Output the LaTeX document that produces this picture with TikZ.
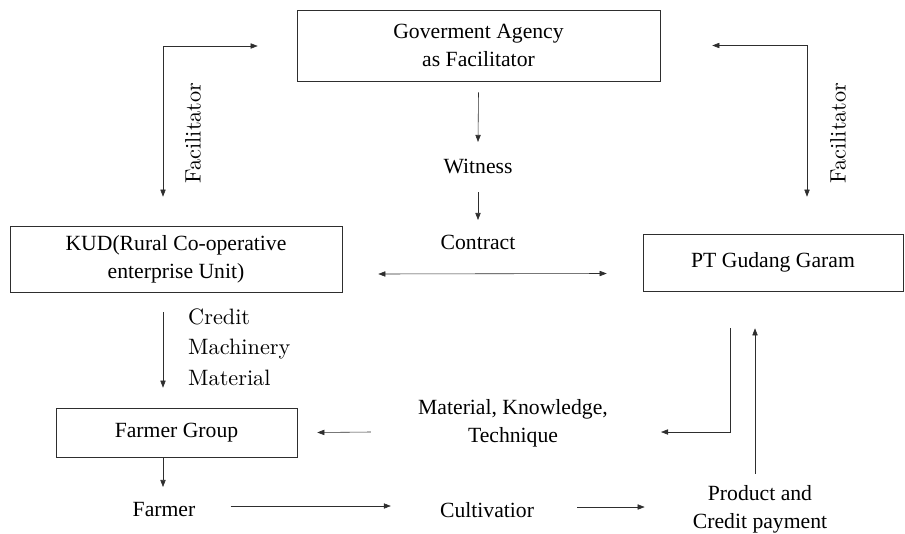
\documentclass[tikz,border=0pt]{standalone}
\usepackage{fontspec}
\setmainfont{Liberation Serif}
\newfontfamily\lmr{lmroman10-regular}[Extension=.otf]
\usetikzlibrary{arrows.meta,calc}
\definecolor{ink}{HTML}{2E2E2E}

\begin{document}
\begin{tikzpicture}[x=0.03cm,y=-0.03cm,>={Triangle[length=6pt,width=4.5pt]},
        box/.style={draw=ink,line width=0.5pt,align=center,inner sep=0pt,
                    font=\fontsize{18.5}{24}\selectfont},
        lbl/.style={inner sep=0pt,align=center,font=\fontsize{18.5}{24}\selectfont},
        cen/.style={inner sep=0pt,align=left,font=\lmr\fontsize{19}{26}\selectfont},
        link/.style={draw=ink,line width=0.5pt}]
      \useasboundingbox (0,0) rectangle (905,533);
      % boxes
      \node[box,minimum width=10.89cm,minimum height=2.13cm] (gov) at (478.5,45.5) {Goverment Agency\\as Facilitator};
      \node[box,minimum width=9.96cm,minimum height=1.98cm] (kud) at (176,259) {KUD(Rural Co-operative\\enterprise Unit)};
      \node[box,minimum width=7.8cm,minimum height=1.71cm] (ptg) at (773,262.5) {PT Gudang Garam};
      \node[box,minimum width=7.23cm,minimum height=1.47cm] (fg) at (176.5,432.5) {Farmer Group};
      % labels
      \node[lbl] (wit) at (478,166) {Witness};
      \node[lbl] (con) at (478,242) {Contract};
      \node[lbl] (mkt) at (513,423) {Material, Knowledge,\\Technique};
      \node[lbl] (fmr) at (164,510) {Farmer};
      \node[lbl] (cul) at (487,510) {Cultivatior};
      \node[lbl] (prd) at (760,509) {Product and\\Credit payment};
      \node[cen,anchor=west] (cmm) at (188,347) {Credit\\Machinery\\Material};
      \node[cen,rotate=90] (facl) at (193,133) {Facilitator};
      \node[cen,rotate=90] (facr) at (838,133) {Facilitator};
      % connectors
      \draw[link,<->] ($(kud.north)+(-13,-29)$) |- ($(gov.west)+(-39,0.5)$);
      \draw[link,<->] ($(ptg.north)+(34,-37)$) |- ($(gov.east)+(52,0)$);
      \draw[link,->] ($(gov.south)+(0,11)$) -- ($(wit)+(0,-24)$);
      \draw[link,->] ($(wit)+(0,26)$) -- ($(con)+(0,-22)$);
      \draw[link,<->] ($(kud.east)+(36,15)$) -- ($(ptg.west)+(-36,11)$);
      \draw[link,->] ($(kud.south)+(-13,20)$) -- ($(fg.north)+(-13.5,-20)$);
      \draw[link,->] ($(fg.south)+(-13.5,0)$) -- ($(fmr)+(-1,-23)$);
      \draw[link,->] ($(fmr.east)+(35,-4)$) -- ($(cul.west)+(-49,-4)$);
      \draw[link,->] ($(cul.east)+(43,-3)$) -- ($(prd.west)+(-48,-2)$);
      \draw[link,->] ($(ptg.south)+(-43,37)$) |- ($(mkt.east)+(53,9)$);
      \draw[link,->] ($(mkt.west)+(-47,9)$) -- ($(fg.east)+(20,0)$);
      \draw[link,->] ($(prd.north)+(-5,-11)$) -- ($(ptg.south)+(-18,37)$);
    \end{tikzpicture}
\end{document}
